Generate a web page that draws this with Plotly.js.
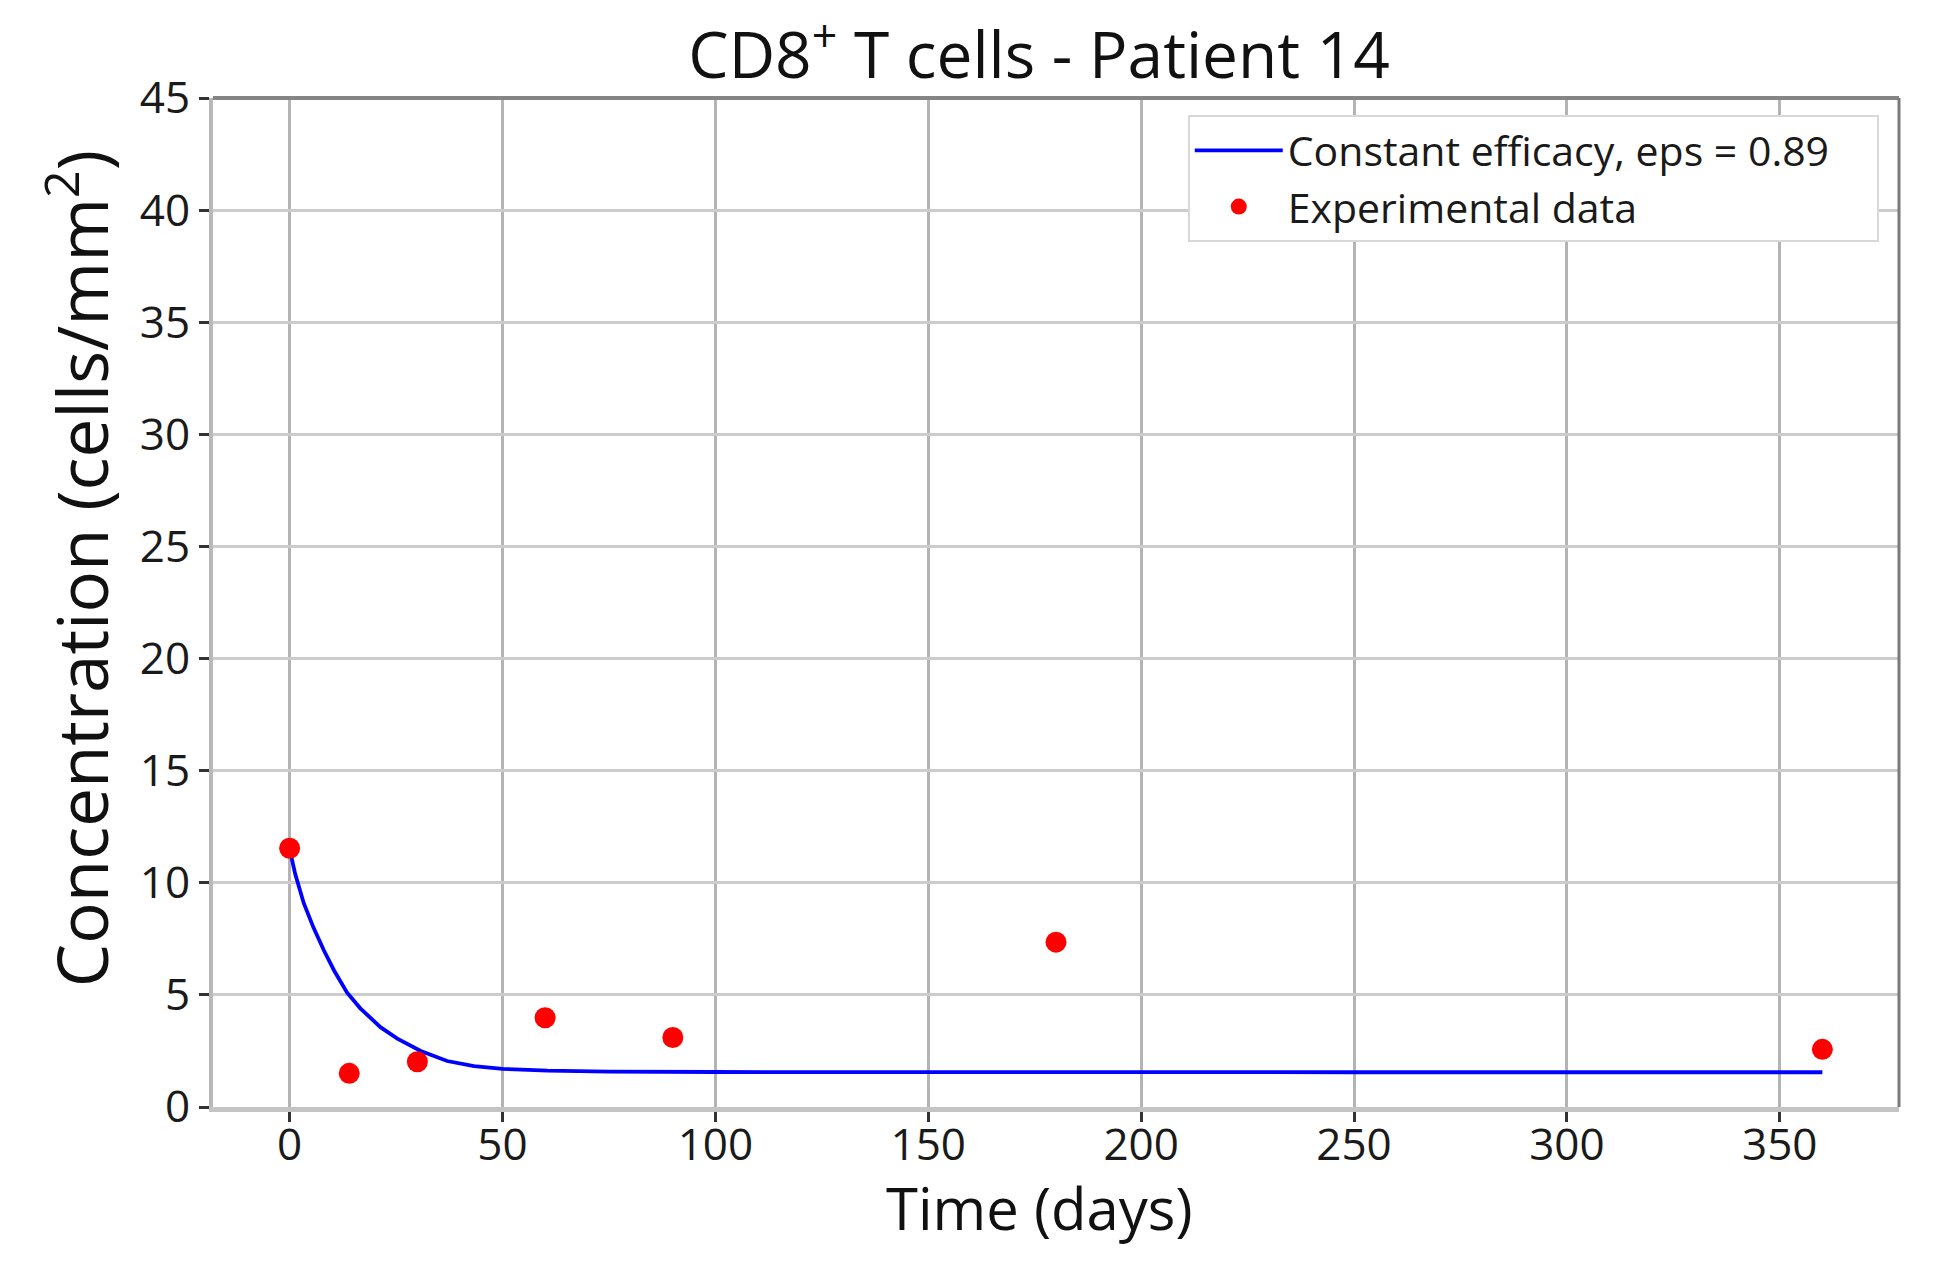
<!DOCTYPE html>
<html>
<head>
<meta charset="utf-8">
<script src="https://cdn.plot.ly/plotly-3.0.1.min.js"></script>
<style>
  html, body { margin: 0; padding: 0; background: #fff; }
  #myDiv { width: 1936px; height: 1266px; }
</style>
</head>
<body>
<div id="myDiv"></div>
<script>
const days = [0, 14, 30, 60, 90, 180, 360]
const cells = [11.54, 1.5, 2.02, 3.98, 3.1, 7.35, 2.57]

// model curve (constant efficacy), sampled by eye along the blue line
const tModel = [0, 1.3, 3.3, 5.6, 8, 10.4, 13.5, 16.6, 21.4, 25.3, 30.8, 37, 43.3, 50, 60.6, 75, 100, 150, 250, 360]
const yModel = [11.5, 10.4, 9.1, 8.0, 7.0, 6.1, 5.1, 4.4, 3.55, 3.05, 2.5, 2.05, 1.82, 1.7, 1.62, 1.58, 1.56, 1.55, 1.55, 1.55]

const xTicks = [0, 50, 100, 150, 200, 250, 300, 350]
const yTicks = [0, 5, 10, 15, 20, 25, 30, 35, 40, 45]

const titleText = "CD8<sup>+</sup> T cells - Patient 14"
const xTitle = "Time (days)"
const yTitle = "Concentration (cells/mm<sup>2</sup>)"
// trailing no-break spaces give the legend box the same right padding as the reference
const modelName = "Constant efficacy, eps = 0.89\u00a0\u00a0\u00a0\u00a0"
const dataName = "Experimental data"

const font = "'Open Sans', 'Noto Sans', sans-serif"

const trace1 = {
  x: tModel,
  y: yModel,
  mode: "lines",
  type: "scatter",
  name: modelName,
  line: { color: "#0000ff", width: 3.8 },
}
const trace2 = {
  x: days,
  y: cells,
  mode: "markers",
  type: "scatter",
  name: dataName,
  marker: { color: "#ff0000", size: 21 },
}

const layout = {
  width: 1936,
  height: 1266,
  paper_bgcolor: "#fff",
  plot_bgcolor: "#fff",
  margin: { l: 213, r: 37, t: 98, b: 159 },
  font: { family: font, color: "#111" },
  title: {
    text: titleText,
    font: { family: font, size: 64, color: "#111" },
    x: 0.49,
    xref: "paper",
    xanchor: "center",
    y: 1 - 56 / 1266,
    yref: "container",
    yanchor: "middle",
  },
  xaxis: {
    range: [-18, 378],
    tickvals: xTicks,
    ticks: "outside",
    ticklen: 10,
    tickwidth: 2.5,
    tickcolor: "#333",
    ticklabelstandoff: -15,
    tickfont: { size: 44, color: "#1a1a1a" },
    showgrid: true,
    gridcolor: "#b4b4b4",
    gridwidth: 2.5,
    zeroline: false,
    showline: true,
    linecolor: "#c4c4c4",
    linewidth: 5,
  },
  yaxis: {
    range: [0, 45],
    tickvals: yTicks,
    ticks: "outside",
    ticklen: 10,
    tickwidth: 2.5,
    tickcolor: "#333",
    tickfont: { size: 44, color: "#1a1a1a" },
    showgrid: true,
    gridcolor: "#cccccc",
    gridwidth: 3,
    zeroline: false,
    showline: true,
    linecolor: "#b8b8b8",
    linewidth: 4,
  },
  annotations: [
    {
      text: xTitle,
      xref: "paper", yref: "paper",
      x: 0.49, y: -0.1,
      xanchor: "center", yanchor: "middle",
      showarrow: false,
      font: { family: font, size: 58, color: "#111" },
    },
    {
      text: yTitle,
      xref: "paper", yref: "paper",
      x: -0.0807, y: 0.534,
      xanchor: "center", yanchor: "middle",
      textangle: -90,
      showarrow: false,
      font: { family: font, size: 69, color: "#111" },
    },
  ],
  shapes: [
    // darker top and right spines
    { type: "line", xref: "paper", yref: "paper", x0: 0, x1: 1, y0: 1, y1: 1, line: { color: "#858585", width: 4 } },
    { type: "line", xref: "paper", yref: "paper", x0: 1, x1: 1, y0: 0, y1: 1, line: { color: "#7a7a7a", width: 3 } },
  ],
  showlegend: true,
  legend: {
    x: 0.988,
    xanchor: "right",
    y: 0.983,
    yanchor: "top",
    bgcolor: "#fff",
    bordercolor: "#d8d8d8",
    borderwidth: 2,
    itemwidth: 88,
    font: { family: font, size: 41, color: "#1a1a1a" },
  },
}

Plotly.newPlot("myDiv", [trace1, trace2], layout, { displayModeBar: false })
</script>
</body>
</html>
